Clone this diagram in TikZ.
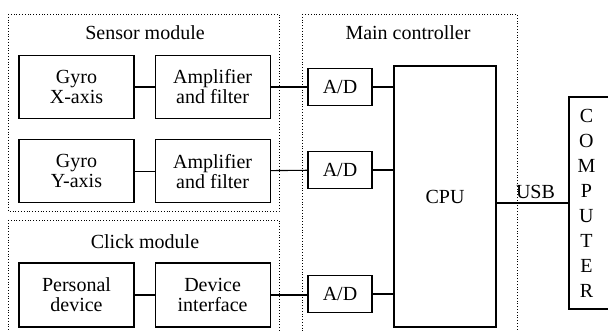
\documentclass[tikz,border=0pt]{standalone}
\usepackage{fontspec}
\setmainfont{Liberation Serif}
\usetikzlibrary{positioning}

\begin{document}
\begin{tikzpicture}[x=1pt,y=-1pt,
	every node/.style={font=\fontsize{20}{20}\selectfont},
	block/.style={draw,line width=1.1pt,minimum width=115pt,minimum height=63pt,align=center,inner sep=0pt},
	adbox/.style={draw,line width=1.1pt,minimum width=64pt,minimum height=37pt,inner sep=0pt},
	frame/.style={dotted,line width=0.8pt},
	wire/.style={line width=1.1pt}]
	\useasboundingbox (0,0) rectangle (608,331);
	\clip (0,0) rectangle (608,331);

	\draw[frame](8,14) rectangle (279,211);
	\draw[frame](8,220) rectangle (279,340);
	\draw[frame](302,14) rectangle (517,340);
	\node (sensortitle) at (145,33) {Sensor module};
	\node (clicktitle) at (145,242) {Click module};
	\node (maintitle) at (408,33) {Main controller};

	\node[block] (gyrox) at (76.5,87) {Gyro\\X-axis};
	\node[block, right=20pt of gyrox] (ampx) {Amplifier\\and filter};
	\node[block, below=20pt of gyrox] (gyroy) {Gyro\\Y-axis};
	\node[block, right=20pt of gyroy] (ampy) {Amplifier\\and filter};
	\node[block, minimum height=64pt] (perdev) at (76.5,295) {Personal\\device};
	\node[block, minimum height=64pt, right=20pt of perdev] (devint) {Device\\interface};

	\node[adbox] (adx) at (340,87) {A/D};
	\node[adbox] (ady) at (340,170) {A/D};
	\node[adbox] (adc) at (340,294) {A/D};
	\node[draw,line width=1.1pt,minimum width=102pt,minimum height=261pt] (cpu) at (445,196.5) {CPU};

	\node[draw,line width=1.1pt,minimum width=52pt,minimum height=212pt] (comp) at (595,203) {};
	\node[align=center,font=\fontsize{20}{25}\selectfont] (comptext) at ([xshift=18pt]comp.west) {C\\O\\M\\P\\U\\T\\E\\R};

	\draw[wire](gyrox)--(ampx);
	\draw[wire](gyroy)--(ampy);
	\draw[wire](perdev)--(devint);
	\draw[wire](ampx)--(adx);
	\draw[wire](ampy)--(ady);
	\draw[wire](devint.east)--(adc.west |- devint.east);
	\draw[wire](adx)--(adx -| cpu.west);
	\draw[wire](ady)--(ady -| cpu.west);
	\draw[wire](adc)--(adc -| cpu.west);
	\draw[wire](comp.west)--(comp.west -| cpu.east) node[midway,above,xshift=3pt]{USB};
\end{tikzpicture}
\end{document}
